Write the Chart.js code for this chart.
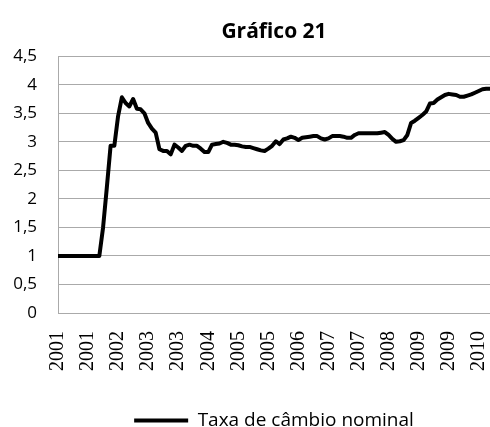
<!DOCTYPE html>
<html>
<head>
<meta charset="utf-8">
<script src="https://cdn.jsdelivr.net/npm/chart.js@4.4.0/dist/chart.umd.min.js"></script>
<style>
  html, body { margin: 0; padding: 0; background: #fff; overflow: hidden; }
  #wrap { width: 490px; height: 440px; }
</style>
</head>
<body>
<div id="wrap"><canvas id="grafico"></canvas></div>
<script>
// Taxa de câmbio nominal, dados mensais (jan/2001 - ago/2010)
const anos = [2001, 2002, 2003, 2004, 2005, 2006, 2007, 2008, 2009, 2010];
const taxa2001 = [1, 1, 1, 1, 1, 1, 1, 1, 1, 1, 1, 1];
const taxa2002 = [1.5, 2.2, 2.93, 2.93, 3.45, 3.78, 3.68, 3.62, 3.75, 3.58, 3.57, 3.5];
const taxa2003 = [3.33, 3.23, 3.16, 2.87, 2.84, 2.84, 2.78, 2.95, 2.9, 2.84, 2.93, 2.95];
const taxa2004 = [2.93, 2.93, 2.88, 2.82, 2.82, 2.95, 2.96, 2.97, 3.0, 2.98, 2.95, 2.95];
const taxa2005 = [2.94, 2.92, 2.91, 2.91, 2.89, 2.87, 2.85, 2.84, 2.88, 2.93, 3.01, 2.96];
const taxa2006 = [3.04, 3.06, 3.09, 3.07, 3.03, 3.07, 3.08, 3.09, 3.1, 3.1, 3.06, 3.04];
const taxa2007 = [3.06, 3.1, 3.1, 3.1, 3.09, 3.07, 3.07, 3.12, 3.15, 3.15, 3.15, 3.15];
const taxa2008 = [3.15, 3.15, 3.16, 3.17, 3.12, 3.05, 3.0, 3.01, 3.03, 3.12, 3.33, 3.37];
const taxa2009 = [3.42, 3.47, 3.53, 3.67, 3.68, 3.74, 3.78, 3.82, 3.84, 3.83, 3.82, 3.79];
const taxa2010 = [3.79, 3.81, 3.83, 3.86, 3.89, 3.92, 3.93, 3.93];

const porAno = [taxa2001, taxa2002, taxa2003, taxa2004, taxa2005,
                taxa2006, taxa2007, taxa2008, taxa2009, taxa2010];

// uma categoria por mês, rotulada com o ano
const labels = [];
const valores = [];
porAno.forEach((serie, k) => {
    serie.forEach(v => {
        labels.push(String(anos[k]));
        valores.push(v);
    });
});

const cinza = 'rgb(170, 170, 170)';

new Chart(document.getElementById('grafico').getContext('2d'), {
    type: 'line',
    data: {
        labels: labels,
        datasets: [{
            label: 'Taxa de câmbio nominal',
            data: valores,
            borderColor: '#000',
            backgroundColor: '#000',
            borderWidth: 4,
            pointRadius: 0,
            tension: 0,
            borderJoinStyle: 'round',
            pointStyle: 'line'
        }]
    },
    options: {
        responsive: true,
        maintainAspectRatio: false,
        animation: false,
        layout: { padding: 0 },
        plugins: {
            title: {
                display: true,
                text: 'Gráfico 21',
                fullSize: false,
                color: '#000',
                font: { family: 'Open Sans', size: 21, weight: 'bold' },
                padding: { top: 19, bottom: 12 }
            },
            legend: {
                position: 'bottom',
                fullSize: false,
                labels: {
                    usePointStyle: true,
                    pointStyleWidth: 54,
                    color: '#000',
                    font: { family: 'Open Sans', size: 19 },
                    padding: 6
                }
            },
            tooltip: { enabled: false }
        },
        scales: {
            x: {
                // marcas invisíveis só para afastar os rótulos do eixo
                grid: { display: true, drawOnChartArea: false, drawTicks: true, tickLength: 14, tickColor: 'rgba(0,0,0,0)' },
                border: { color: cinza, width: 1 },
                ticks: {
                    autoSkip: false,
                    maxRotation: 90,
                    minRotation: 90,
                    padding: 4,
                    color: '#000',
                    font: { family: 'Liberation Serif', size: 20 },
                    callback: function (val, i) {
                        return i % 8 === 0 ? this.getLabelForValue(val) : '';
                    }
                },
                afterFit(scale) {
                    scale.height = 92;
                    scale.paddingLeft = 0;
                    scale.paddingRight = 0;
                }
            },
            y: {
                min: 0,
                max: 4.5,
                grid: { color: cinza, drawTicks: false },
                border: { color: cinza, width: 1 },
                ticks: {
                    stepSize: 0.5,
                    padding: 21,
                    color: '#000',
                    font: { family: 'Open Sans', size: 17 },
                    callback: v => String(v).replace('.', ',')
                },
                afterFit(scale) {
                    scale.width = 58;
                }
            }
        }
    }
});
</script>
</body>
</html>
